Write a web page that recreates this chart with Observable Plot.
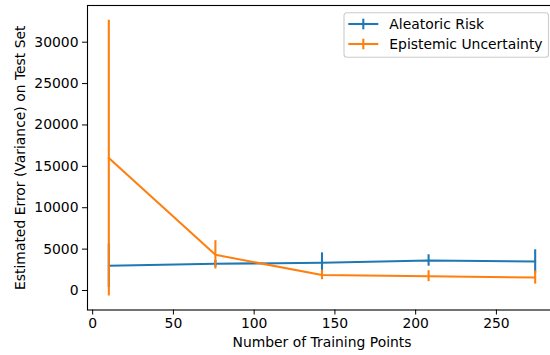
<!DOCTYPE html>
<html>
<head>
<meta charset="utf-8">
<script src="https://cdn.jsdelivr.net/npm/d3@7"></script>
<script src="https://cdn.jsdelivr.net/npm/@observablehq/plot@0.6"></script>
<style>
  html, body { margin: 0; padding: 0; background: white; }
  #wrap { position: relative; width: 550px; height: 355px; overflow: hidden; background: white; }
  #wrap svg { display: block; }
  #wrap svg.plot { max-width: none !important; width: 560px; height: 355px; }
  #legend { position: absolute; left: 0; top: 0; pointer-events: none; }
</style>
</head>
<body>
<div id="wrap"></div>
<script>
// Data
const trainingPoints = [10, 76, 142, 208, 274];
const aleatoricMean = [3000, 3225, 3350, 3625, 3500];
const aleatoricErr  = [2650, 400, 1200, 690, 1420];
const epistemicMean = [16000, 4310, 1880, 1730, 1570];
const epistemicErr  = [16650, 1710, 580, 660, 800];
const seriesNames = ["Aleatoric Risk", "Epistemic Uncertainty"];
const seriesColors = ["#1f77b4", "#ff7f0e"];
const yTicks = [0, 5000, 10000, 15000, 20000, 25000, 30000];
const xTicks = [0, 50, 100, 150, 200, 250];
const xLabel = "Number of Training Points";
const yLabel = "Estimated Error (Variance) on Test Set";

const aleatoric = trainingPoints.map((x, i) => ({x, y: aleatoricMean[i], lo: aleatoricMean[i] - aleatoricErr[i], hi: aleatoricMean[i] + aleatoricErr[i]}));
const epistemic = trainingPoints.map((x, i) => ({x, y: epistemicMean[i], lo: epistemicMean[i] - epistemicErr[i], hi: epistemicMean[i] + epistemicErr[i]}));

const LW = 2.08;
const font = "DejaVu Sans, sans-serif";
const fs = "13.9px";

const chart = Plot.plot({
  width: 560,
  height: 355,
  marginLeft: 87,
  marginTop: 5,
  marginRight: 4,
  marginBottom: 45.5,
  style: {fontFamily: font, fontSize: fs, color: "black", background: "white", overflow: "visible", maxWidth: "none"},
  x: {domain: [-3.2, 287.2], ticks: xTicks, tickSize: 5, tickPadding: 3, tickFormat: d => String(d), label: null},
  y: {domain: [-2356, 34432], ticks: yTicks, tickSize: 5, tickPadding: 4, tickFormat: d => String(d), label: null},
  marks: [
    Plot.line(aleatoric, {x: "x", y: "y", stroke: seriesColors[0], strokeWidth: LW}),
    Plot.ruleX(aleatoric, {x: "x", y1: "lo", y2: "hi", stroke: seriesColors[0], strokeWidth: LW}),
    Plot.line(epistemic, {x: "x", y: "y", stroke: seriesColors[1], strokeWidth: LW}),
    Plot.ruleX(epistemic, {x: "x", y1: "lo", y2: "hi", stroke: seriesColors[1], strokeWidth: LW}),
    Plot.frame({stroke: "black", strokeWidth: 1.1}),
    Plot.text([xLabel], {frameAnchor: "bottom", textAnchor: "middle", dy: 32.5, lineAnchor: "middle", fill: "black", fontSize: 13.9}),
    Plot.text([yLabel], {frameAnchor: "left", textAnchor: "middle", dx: -67, rotate: -90, lineAnchor: "middle", fill: "black", fontSize: 13.9})
  ]
});
const wrap = document.getElementById("wrap");
wrap.appendChild(chart);

// Legend (matplotlib style)
const ns = "http://www.w3.org/2000/svg";
const leg = document.createElementNS(ns, "svg");
leg.setAttribute("id", "legend");
leg.setAttribute("width", 550);
leg.setAttribute("height", 355);
const box = document.createElementNS(ns, "rect");
box.setAttribute("x", 344); box.setAttribute("y", 12.7);
box.setAttribute("width", 204.5); box.setAttribute("height", 44.6);
box.setAttribute("rx", 3); box.setAttribute("fill", "white"); box.setAttribute("fill-opacity", 0.8);
box.setAttribute("stroke", "#cccccc"); box.setAttribute("stroke-width", 1.1);
leg.appendChild(box);
seriesNames.forEach((name, i) => {
  const cy = 24 + i * 20;
  const h = document.createElementNS(ns, "line");
  h.setAttribute("x1", 348.3); h.setAttribute("x2", 378.3);
  h.setAttribute("y1", cy); h.setAttribute("y2", cy);
  h.setAttribute("stroke", seriesColors[i]); h.setAttribute("stroke-width", LW);
  leg.appendChild(h);
  const v = document.createElementNS(ns, "line");
  v.setAttribute("x1", 363.3); v.setAttribute("x2", 363.3);
  v.setAttribute("y1", cy - 5.3); v.setAttribute("y2", cy + 5.3);
  v.setAttribute("stroke", seriesColors[i]); v.setAttribute("stroke-width", LW);
  leg.appendChild(v);
  const t = document.createElementNS(ns, "text");
  t.setAttribute("x", 389.3); t.setAttribute("y", cy);
  t.setAttribute("dominant-baseline", "central");
  t.setAttribute("font-family", font); t.setAttribute("font-size", fs);
  t.setAttribute("fill", "black");
  t.textContent = name;
  leg.appendChild(t);
});
wrap.appendChild(leg);
</script>
</body>
</html>
